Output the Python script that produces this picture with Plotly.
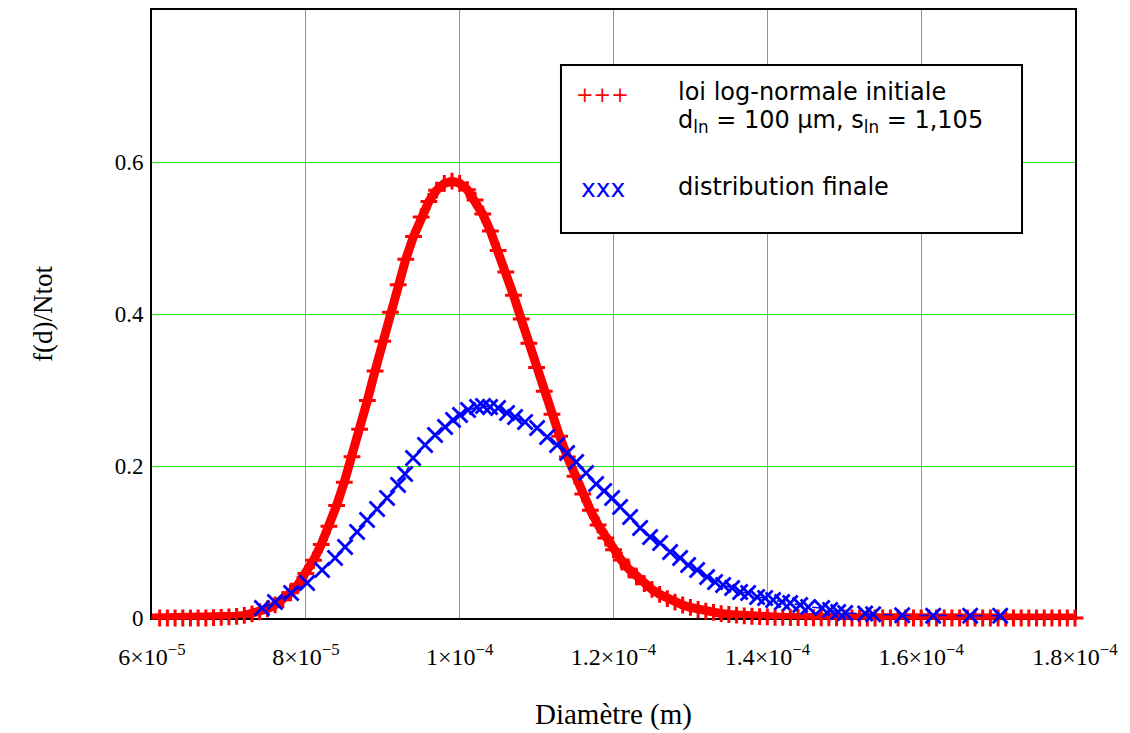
import plotly.graph_objects as go

# ---- data (diameters in micrometres) ----
red_d_um = list(range(60, 181))
red_f = [
    0.000, 0.000, 0.000, 0.000, 0.000, 0.000, 0.000, 0.000, 0.0005, 0.0008,   # 60-69
    0.0014, 0.0022, 0.0035, 0.0054, 0.0082, 0.0120, 0.0172, 0.0241, 0.0331, 0.0445,  # 70-79
    0.0587, 0.0760, 0.0966, 0.1206, 0.1480, 0.1787, 0.2123, 0.2483, 0.2862, 0.3251,  # 80-89
    0.3641, 0.4022, 0.4386, 0.4722, 0.5021, 0.5276, 0.5480, 0.5629, 0.5718, 0.5749,  # 90-99
    0.5720, 0.5635, 0.5499, 0.5315, 0.5091, 0.4834, 0.4551, 0.4248, 0.3934, 0.3615,  # 100-109
    0.3296, 0.2983, 0.2680, 0.2391, 0.2120, 0.1866, 0.1632, 0.1418, 0.1225, 0.1052,  # 110-119
    0.0899, 0.0763, 0.0644, 0.0541, 0.0452, 0.0376, 0.0311, 0.0256, 0.0210, 0.0171,  # 120-129
    0.0139, 0.0112, 0.0090, 0.0073, 0.0058, 0.0046, 0.0037, 0.0029, 0.0023, 0.0018,  # 130-139
    0.0014, 0.0010, 0.0008, 0.0006, 0.0005, 0.0004, 0.0003, 0.0002, 0.0002, 0.0001,  # 140-149
    0.000, 0.000, 0.000, 0.000, 0.000, 0.000, 0.000, 0.000, 0.000, 0.000,            # 150-159
    0.000, 0.000, 0.000, 0.000, 0.000, 0.000, 0.000, 0.000, 0.000, 0.000,            # 160-169
    0.000, 0.000, 0.000, 0.000, 0.000, 0.000, 0.000, 0.000, 0.000, 0.000,            # 170-179
    0.000,                                                                          # 180
]

blue_d_um = [
    74.30, 75.99, 78.08, 80.16, 82.11, 83.80, 85.10, 86.66, 87.96, 89.26,
    90.56, 91.99, 92.90, 93.94, 95.50, 96.80, 98.10, 99.14, 100.05, 101.09,
    102.26, 103.04, 103.95, 104.99, 106.16, 107.20, 108.50, 110.07, 111.37, 112.67,
    113.97, 115.14, 116.44, 117.74, 118.78, 119.82, 120.86, 122.16, 123.46, 124.76,
    126.06, 127.36, 128.66, 129.70, 130.87, 132.17, 133.21, 134.25, 135.42, 136.46,
    137.50, 138.67, 139.71, 140.75, 141.93, 142.97, 144.27, 145.31, 147.13, 148.17,
    149.21, 150.12, 152.72, 153.76, 157.53, 161.56, 166.37, 170.27,
]
blue_f = [
    0.0132, 0.0211, 0.0329, 0.0461, 0.0632, 0.0789, 0.0934, 0.1132, 0.1289, 0.1434,
    0.1579, 0.1750, 0.1895, 0.2105, 0.2276, 0.2408, 0.2513, 0.2605, 0.2671, 0.2737,
    0.2776, 0.2789, 0.2776, 0.2763, 0.2697, 0.2645, 0.2579, 0.2500, 0.2382, 0.2276,
    0.2171, 0.2053, 0.1908, 0.1763, 0.1671, 0.1579, 0.1461, 0.1329, 0.1184, 0.1066,
    0.0987, 0.0868, 0.0789, 0.0697, 0.0632, 0.0539, 0.0474, 0.0434, 0.0395, 0.0342,
    0.0329, 0.0276, 0.0263, 0.0237, 0.0211, 0.0197, 0.0171, 0.0145, 0.0132, 0.0105,
    0.0079, 0.0066, 0.0060, 0.0050, 0.0035, 0.0030, 0.0030, 0.0030,
]

x_tickvals = [6e-5, 8e-5, 1e-4, 1.2e-4, 1.4e-4, 1.6e-4, 1.8e-4]
x_ticktext = ["6×10<sup>−5</sup>", "8×10<sup>−5</sup>", "1×10<sup>−4</sup>",
              "1.2×10<sup>−4</sup>", "1.4×10<sup>−4</sup>", "1.6×10<sup>−4</sup>",
              "1.8×10<sup>−4</sup>"]
y_tickvals = [0, 0.2, 0.4, 0.6]
y_ticktext = ["0", "0.2", "0.4", "0.6"]

red_x = [d * 1e-6 for d in red_d_um]
blue_x = [d * 1e-6 for d in blue_d_um]

RED = "#ff0000"
BLUE = "#0000ff"
GRID = "#22e622"

fig = go.Figure()
fig.add_trace(go.Scatter(
    x=red_x, y=red_f, mode="lines+markers",
    line=dict(color=RED, width=9),
    marker=dict(symbol="cross-thin", size=12, line=dict(color=RED, width=3), color=RED),
    cliponaxis=False, showlegend=False, hoverinfo="skip",
))
fig.add_trace(go.Scatter(
    x=blue_x, y=blue_f, mode="lines+markers",
    line=dict(color=BLUE, width=1.5, dash="dash"),
    marker=dict(symbol="x-thin", size=15, line=dict(color=BLUE, width=2.8), color=BLUE),
    cliponaxis=False, showlegend=False, hoverinfo="skip",
))

# the page body adds an 8 px offset, so margins are shifted to compensate
fig.update_layout(
    template="none",
    width=1130, height=733,
    margin=dict(l=144, r=63, t=2, b=123, autoexpand=False),
    paper_bgcolor="white", plot_bgcolor="white",
    font=dict(family="Liberation Serif", color="black"),
    showlegend=False,
)
fig.update_xaxes(
    range=[6e-5, 1.8e-4], tickvals=x_tickvals, ticktext=x_ticktext,
    showgrid=True, gridcolor=GRID, gridwidth=1.3,
    showline=True, linecolor="black", linewidth=2, mirror=True,
    ticks="", zeroline=False, layer="below traces", automargin=False,
    ticklabelstandoff=16,
    tickfont=dict(family="Liberation Serif", size=24, color="black"),
    title=dict(text="Diamètre (m)", font=dict(family="Liberation Serif", size=29, color="black"), standoff=35),
)
fig.update_yaxes(
    range=[0, 0.8], tickvals=y_tickvals, ticktext=y_ticktext,
    showgrid=True, gridcolor=GRID, gridwidth=1.3,
    showline=True, linecolor="black", linewidth=2, mirror=True,
    ticks="", zeroline=False, layer="below traces", automargin=False,
    ticklabelstandoff=2,
    tickfont=dict(family="Liberation Serif", size=23, color="black"),
    title=dict(text="f(d)/Ntot", font=dict(family="Liberation Serif", size=27, color="black"), standoff=54),
)

# legend box
fig.add_shape(type="rect", xref="paper", yref="paper",
              x0=0.4431, x1=0.9426, y0=0.6332, y1=0.9095,
              line=dict(color="black", width=2), fillcolor="white", layer="above")

LF = "DejaVu Sans"
ann = [
    dict(x=0.4886, y=0.8602, text="+++", font=dict(family=LF, size=21, color=RED), xanchor="center"),
    dict(x=0.5677, y=0.8651, text="loi log-normale initiale", font=dict(family=LF, size=24, color="black"), xanchor="left"),
    dict(x=0.5677, y=0.8174, text="d<sub>ln</sub> = 100 µm, s<sub>ln</sub> = 1,105", font=dict(family=LF, size=24, color="black"), xanchor="left"),
    dict(x=0.4886, y=0.7056, text="xxx", font=dict(family=LF, size=25, color=BLUE), xanchor="center"),
    dict(x=0.5677, y=0.7089, text="distribution finale", font=dict(family=LF, size=24, color="black"), xanchor="left"),
]
for a in ann:
    fig.add_annotation(xref="paper", yref="paper", showarrow=False, yanchor="middle", **a)

fig.write_html("out.html")
